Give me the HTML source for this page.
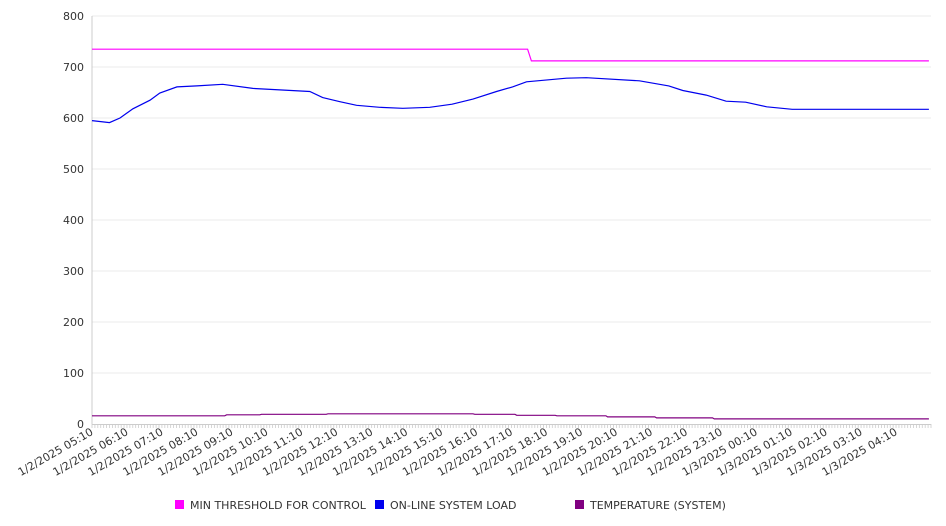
<!DOCTYPE html>
<html><head><meta charset="utf-8">
<style>
html,body{margin:0;padding:0;background:#fff;}
svg{display:block;font-family:"DejaVu Sans","Liberation Sans",sans-serif;}
</style></head>
<body>
<svg id="chart" width="946" height="526" viewBox="0 0 946 526" xmlns="http://www.w3.org/2000/svg">
<g id="grid"></g>
<g id="yaxis"></g>
<g id="xaxis"></g>
<g id="series"></g>
<g id="legend"></g>
</svg>
<script>
const yTicks = [0,100,200,300,400,500,600,700,800];
const xTickLabels = ["1/2/2025 05:10","1/2/2025 06:10","1/2/2025 07:10","1/2/2025 08:10","1/2/2025 09:10","1/2/2025 10:10","1/2/2025 11:10","1/2/2025 12:10","1/2/2025 13:10","1/2/2025 14:10","1/2/2025 15:10","1/2/2025 16:10","1/2/2025 17:10","1/2/2025 18:10","1/2/2025 19:10","1/2/2025 20:10","1/2/2025 21:10","1/2/2025 22:10","1/2/2025 23:10","1/3/2025 00:10","1/3/2025 01:10","1/3/2025 02:10","1/3/2025 03:10","1/3/2025 04:10"];
// hours since 05:10
const loadHours = [0,0.5,0.8,1.17,1.66,1.94,2.43,3,3.74,4.6,5.37,6.23,6.6,7.09,7.57,8.23,8.89,9.66,10.3,10.9,11.57,12.03,12.43,13.57,14.14,15.66,16.5,16.9,17.57,18.14,18.7,19.3,20.03,20.6,23.94];
const loadValues = [595,591,600,618,635,649,661,663,666,658,655,652,640,632,625,621,619,621,627,637,652,661,671,678,679,673,663,654,645,633,631,622,617,617,617];
const threshHours = [0,12.46,12.57,23.94];
const threshValues = [735,735,712,712];
const tempHours = [0,3.8,3.85,4.8,4.85,6.7,6.75,10.9,10.95,12.1,12.15,13.25,13.3,14.7,14.75,16.1,16.15,17.75,17.8,23.94];
const tempValues = [16,16,18,18,19,19,20,20,19,19,17,17,16,16,14,14,12,12,10,10];
const seriesNames = ["MIN THRESHOLD FOR CONTROL","ON-LINE SYSTEM LOAD","TEMPERATURE (SYSTEM)"];
const seriesColors = ["#ff00ff","#0000ee","#800080"];

const NS="http://www.w3.org/2000/svg";
const X0=92,X1=931,Y0=424,Y1=16;
const xScale=h=>X0+h*(X1-X0)/24;
const yScale=v=>Y0-(v/800)*(Y0-Y1);
function mk(tag,attrs,parent){const e=document.createElementNS(NS,tag);for(const k in attrs)e.setAttribute(k,attrs[k]);parent.appendChild(e);return e;}
const grid=document.getElementById('grid'),ya=document.getElementById('yaxis'),xa=document.getElementById('xaxis'),sg=document.getElementById('series'),lg=document.getElementById('legend');

yTicks.forEach(v=>{
  const y=yScale(v);
  if(v>0){const l=mk('line',{x1:X0,x2:X1,y1:y,y2:y,stroke:'#ebebeb','stroke-width':1},grid);
  
  }
  const t=mk('text',{x:84,y:y+4,'text-anchor':'end','font-size':11,fill:'#333'},ya);
  t.textContent=v;
  
  
});
const yl=mk('line',{x1:X0,x2:X0,y1:Y1,y2:Y0,stroke:'#ccc','stroke-width':1},ya);


const xl=mk('line',{x1:X0,x2:X1,y1:Y0+0.5,y2:Y0+0.5,stroke:'#ccc','stroke-width':1},xa);


for(let i=0;i<=24*12;i++){
  const x=xScale(i/12);
  const tk=mk('line',{x1:x,x2:x,y1:Y0,y2:Y0+4,stroke:'#ccc','stroke-width':0.8},xa);
  
  
}
xTickLabels.forEach((s,i)=>{
  const x=xScale(i)+2,y=Y0+10;
  const t=mk('text',{x:x,y:y,'text-anchor':'end','font-size':11,fill:'#333',transform:`rotate(-30 ${x} ${y})`},xa);
  t.textContent=s;
  
  
});
function line(hs,vs,color,name){
  const d=hs.map((h,i)=>(i?'L':'M')+xScale(h).toFixed(1)+','+yScale(vs[i]).toFixed(1)).join('');
  const p=mk('path',{d:d,fill:'none',stroke:color,'stroke-width':1.2},sg);
  
  
}
line(threshHours,threshValues,seriesColors[0],'min-threshold-line');
line(loadHours,loadValues,seriesColors[1],'system-load-line');
line(tempHours,tempValues,seriesColors[2],'temperature-line');
const lx=[175,375,575];
seriesNames.forEach((n,i)=>{
  const r=mk('rect',{x:lx[i],y:500,width:9,height:9,fill:seriesColors[i]},lg);
  
  
  const t=mk('text',{x:lx[i]+15,y:509,'font-size':11,fill:'#333'},lg);
  t.textContent=n;
  
  
});
</script>
</body></html>
